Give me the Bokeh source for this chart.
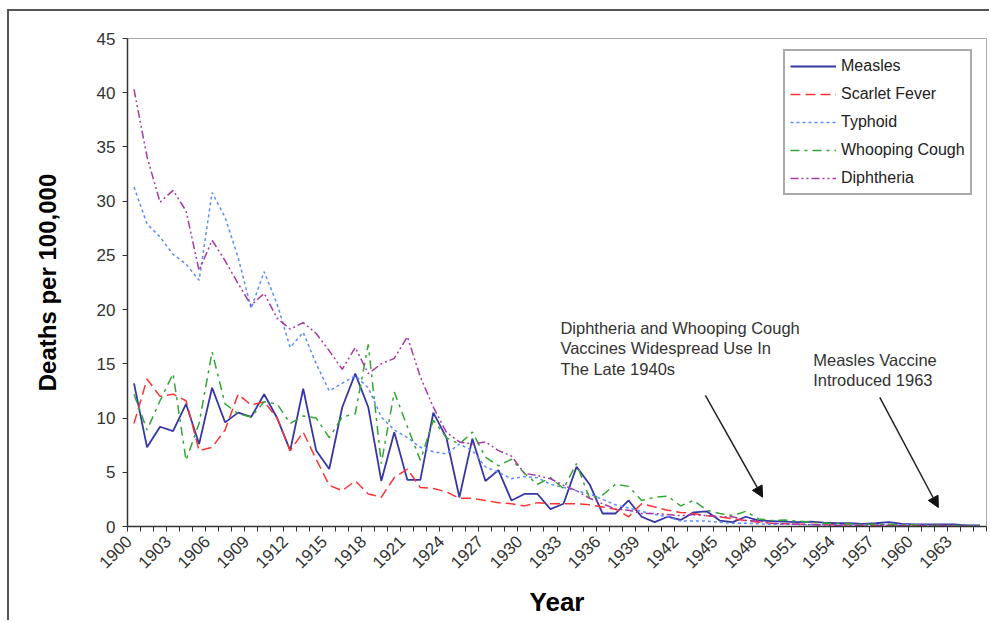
from math import pi
from bokeh.plotting import figure
from bokeh.models import Range1d, FixedTicker, Legend, LegendItem, Arrow, NormalHead
from bokeh.embed import file_html
from bokeh.resources import INLINE
from bokeh.core.properties import value

years = list(range(1900, 1966))

measles = [13.2, 7.3, 9.2, 8.8, 11.3, 7.6, 12.8, 9.6, 10.5, 10.1,
           12.2, 10.0, 7.0, 12.7, 7.0, 5.3, 11.0, 14.1, 11.0, 4.2,
           8.7, 4.3, 4.3, 10.5, 8.2, 2.7, 8.1, 4.2, 5.2, 2.4,
           3.0, 3.0, 1.6, 2.1, 5.5, 3.9, 1.2, 1.2, 2.4, 0.9,
           0.4, 0.9, 0.6, 1.3, 1.4, 0.55, 0.4, 0.9, 0.55, 0.5,
           0.45, 0.4, 0.45, 0.35, 0.3, 0.3, 0.25, 0.3, 0.4, 0.25,
           0.2, 0.2, 0.2, 0.2, 0.1, 0.1]

scarlet_fever = [9.5, 13.6, 12.0, 12.2, 11.6, 7.0, 7.3, 8.9, 12.2, 11.2,
                 11.5, 10.0, 7.0, 8.7, 6.2, 3.8, 3.3, 4.2, 3.0, 2.7,
                 4.5, 5.3, 3.6, 3.5, 3.2, 2.6, 2.6, 2.4, 2.2, 2.1,
                 1.9, 2.2, 2.1, 2.1, 2.1, 2.0, 1.8, 1.6, 0.9, 2.1,
                 1.8, 1.5, 1.3, 1.2, 1.0, 0.9, 0.7, 0.55, 0.4, 0.3,
                 0.25, 0.2, 0.2, 0.15, 0.15, 0.15, 0.1, 0.1, 0.1, 0.1,
                 0.1, 0.1, 0.1, 0.05, 0.05, 0.05]

typhoid = [31.3, 27.9, 26.7, 25.1, 24.2, 22.7, 30.8, 28.5, 24.8, 20.1,
           23.5, 20.5, 16.5, 17.9, 15.0, 12.5, 13.2, 13.9, 12.8, 10.1,
           8.9, 8.2, 7.3, 6.9, 6.7, 7.6, 7.0, 5.5, 5.0, 4.4,
           4.6, 4.5, 3.9, 3.6, 3.3, 3.0, 2.5, 2.0, 1.7, 1.4,
           1.1, 0.9, 0.5, 0.5, 0.5, 0.4, 0.3, 0.3, 0.25, 0.2,
           0.2, 0.2, 0.15, 0.15, 0.15, 0.15, 0.15, 0.15, 0.15, 0.15,
           0.15, 0.1, 0.1, 0.1, 0.1, 0.1]

whooping_cough = [12.2, 8.9, 11.6, 14.1, 6.1, 9.5, 16.1, 11.3, 10.4, 10.1,
                  11.5, 11.3, 9.5, 10.2, 10.0, 8.2, 10.1, 10.4, 16.8, 5.8,
                  12.4, 9.2, 6.1, 9.8, 8.2, 7.6, 8.7, 6.4, 5.6, 6.2,
                  4.9, 3.9, 4.5, 3.5, 5.8, 2.6, 2.9, 3.9, 3.7, 2.4,
                  2.7, 2.8, 1.9, 2.4, 1.5, 1.2, 1.0, 1.4, 0.7, 0.55,
                  0.6, 0.5, 0.4, 0.3, 0.3, 0.25, 0.2, 0.2, 0.2, 0.15,
                  0.15, 0.1, 0.1, 0.1, 0.1, 0.05]

diphtheria = [40.3, 34.1, 29.9, 31.0, 29.1, 23.6, 26.4, 24.5, 22.4, 20.4,
              21.5, 19.2, 18.2, 18.8, 17.8, 16.2, 14.5, 16.5, 14.1, 15.0,
              15.5, 17.5, 13.8, 11.0, 8.7, 7.8, 7.6, 7.8, 7.0, 6.5,
              4.9, 4.7, 4.4, 3.8, 3.3, 2.6, 2.1, 1.6, 1.5, 1.2,
              1.2, 1.1, 1.0, 1.1, 1.0, 0.9, 0.9, 0.55, 0.5, 0.3,
              0.25, 0.2, 0.15, 0.15, 0.1, 0.1, 0.1, 0.1, 0.1, 0.1,
              0.1, 0.1, 0.1, 0.05, 0.05, 0.05]

series_names = ["Measles", "Scarlet Fever", "Typhoid", "Whooping Cough", "Diphtheria"]
tick_years = list(range(1900, 1964, 3))
y_ticks = list(range(0, 50, 5))

note1_lines = ["Diphtheria and Whooping Cough", "Vaccines Widespread Use In", "The Late 1940s"]
note2_lines = ["Measles Vaccine", "Introduced 1963"]

FONT = "Liberation Sans"
LABEL_SHIFT = 0.4  # rotated year labels sit slightly left of their category centre

p = figure(width=982, height=611, output_backend="svg", toolbar_location=None,
           x_range=Range1d(years[0] - 0.5, years[-1] + 0.5), y_range=Range1d(0, 45),
           min_border_left=118, min_border_right=5, min_border_top=27, min_border_bottom=96)
p.styles = {"border-left": "2px solid #555555", "border-top": "2px solid #555555",
            "margin-left": "7px", "margin-top": "9px"}
p.background_fill_color = "white"
p.border_fill_color = "white"
p.outline_line_color = "#aaaaaa"
p.outline_line_width = 1
p.xgrid.visible = False
p.ygrid.visible = False

# x axis
xa = p.xaxis[0]
label_pos = [y - LABEL_SHIFT for y in tick_years]
xa.ticker = FixedTicker(ticks=label_pos, minor_ticks=[y - 0.5 for y in years] + [years[-1] + 0.5])
xa.major_label_overrides = {pos: str(y) for pos, y in zip(label_pos, tick_years)}
xa.major_tick_out = 0
xa.major_tick_in = 0
xa.minor_tick_out = 5
xa.minor_tick_in = 0
xa.minor_tick_line_color = "#333333"
xa.axis_line_color = "#333333"
xa.axis_line_width = 1.5
xa.major_label_orientation = pi / 4
xa.major_label_text_font = FONT
xa.major_label_text_font_size = "17px"
xa.major_label_text_color = "#333333"
xa.major_label_standoff = 7
xa.axis_label = "Year"
xa.axis_label_text_font = FONT
xa.axis_label_text_font_size = "26px"
xa.axis_label_text_font_style = "bold"
xa.axis_label_text_color = "black"
xa.axis_label_standoff = 10

# y axis
ya = p.yaxis[0]
ya.ticker = FixedTicker(ticks=y_ticks)
ya.major_tick_out = 5
ya.major_tick_in = 0
ya.minor_tick_line_color = None
ya.major_tick_line_color = "#333333"
ya.axis_line_color = "#333333"
ya.axis_line_width = 1.5
ya.major_label_text_font = FONT
ya.major_label_text_font_size = "17px"
ya.major_label_text_color = "#333333"
ya.major_label_standoff = 7
ya.axis_label = "Deaths per 100,000"
ya.axis_label_text_font = FONT
ya.axis_label_text_font_size = "24px"
ya.axis_label_text_font_style = "bold"
ya.axis_label_text_color = "black"
ya.axis_label_standoff = 33

styles = [
    dict(line_color="#3636a6", line_width=1.8),
    dict(line_color="#ff3333", line_width=1.5, line_dash="10 5"),
    dict(line_color="#5b8cff", line_width=1.5, line_dash="3 3"),
    dict(line_color="#33a633", line_width=1.5, line_dash="9 5 3 5"),
    dict(line_color="#a63aa6", line_width=1.5, line_dash="8 3 2 3 2 3"),
]
data = [measles, scarlet_fever, typhoid, whooping_cough, diphtheria]
renderers = []
for vals, st in zip(data, styles):
    renderers.append(p.line(years, vals, **st))

legend = Legend(items=[LegendItem(label=n, renderers=[r]) for n, r in zip(series_names, renderers)],
                location=(656, 331))
legend.border_line_color = "#555555"
legend.border_line_width = 2
legend.background_fill_color = "white"
legend.background_fill_alpha = 1
legend.label_text_font = FONT
legend.label_text_font_size = "16px"
legend.label_text_color = "#222222"
legend.glyph_width = 46
legend.glyph_height = 20
legend.label_standoff = 5
legend.spacing = 8
legend.padding = 5
legend.margin = 0
p.add_layout(legend)

# annotations
p.text(x=[1932.76] * len(note1_lines), y=[18.35] * len(note1_lines), text=note1_lines,
       y_offset=[20.5 * k for k in range(len(note1_lines))],
       text_font=value(FONT), text_font_size="16.5px", text_color="#333333",
       text_baseline="middle", text_align="left")
p.text(x=[1952.19] * len(note2_lines), y=[15.31] * len(note2_lines), text=note2_lines,
       y_offset=[20.0 * k for k in range(len(note2_lines))],
       text_font=value(FONT), text_font_size="16.5px", text_color="#333333",
       text_baseline="middle", text_align="left")

for xs, ys, xe, ye in [(1943.9, 12.1, 1948.3, 2.7), (1957.3, 11.9, 1961.8, 1.75)]:
    p.add_layout(Arrow(x_start=xs, y_start=ys, x_end=xe, y_end=ye, line_color="#222222", line_width=1.5,
                       end=NormalHead(size=11, fill_color="#111111", line_color="#111111")))

open("out.html", "w").write(file_html(p, INLINE))
